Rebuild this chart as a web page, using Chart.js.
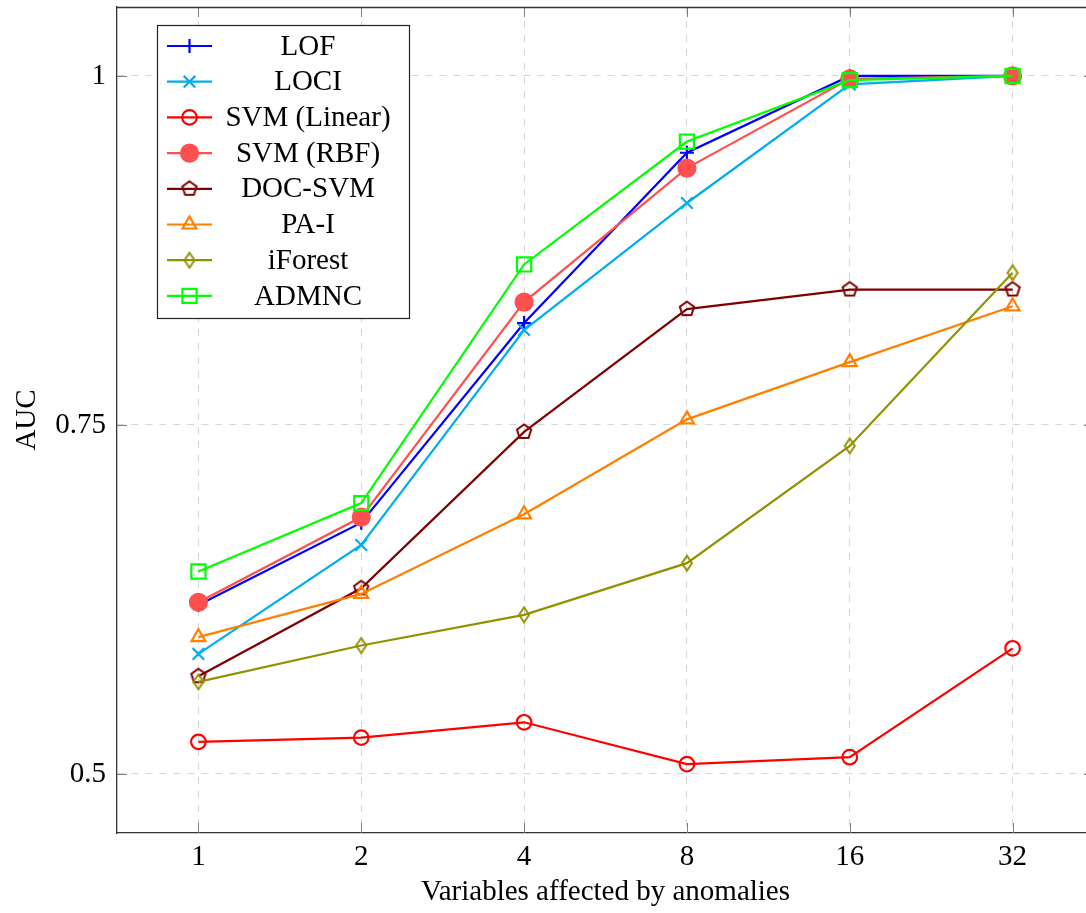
<!DOCTYPE html>
<html>
<head>
<meta charset="utf-8">
<title>AUC vs. variables affected by anomalies</title>
<script src="https://cdn.jsdelivr.net/npm/chart.js@4/dist/chart.umd.min.js"></script>
<style>
  html, body { margin: 0; padding: 0; background: #fff; overflow: hidden; }
  #wrap { width: 1096px; height: 913px; }
</style>
</head>
<body>
<div id="wrap"><canvas id="c" width="1096" height="913"></canvas></div>
<script>
// Number of variables affected by anomalies (evenly spaced categories)
const categories = ['1', '2', '4', '8', '16', '32'];
const yTickValues = [0.5, 0.75, 1];

// AUC per method
const lof      = [0.621, 0.680, 0.823, 0.945, 1.000, 1.000];
const loci     = [0.586, 0.664, 0.818, 0.909, 0.994, 1.000];
const svmLin   = [0.523, 0.526, 0.537, 0.507, 0.512, 0.590];
const svmRbf   = [0.623, 0.684, 0.838, 0.934, 0.998, 1.000];
const docSvm   = [0.570, 0.633, 0.745, 0.833, 0.847, 0.847];
const paI      = [0.598, 0.629, 0.686, 0.754, 0.795, 0.835];
const iForest  = [0.566, 0.592, 0.614, 0.651, 0.735, 0.859];
const admnc    = [0.645, 0.694, 0.865, 0.953, 0.997, 1.000];

const methodNames = ['LOF', 'LOCI', 'SVM (Linear)', 'SVM (RBF)', 'DOC-SVM', 'PA-I', 'iForest', 'ADMNC'];
const methodValues = [lof, loci, svmLin, svmRbf, docSvm, paI, iForest, admnc];
const methodColors = ['#0000ff', '#00aeef', '#ff0000', '#ff5050', '#800000', '#ff8000', '#929200', '#00ff00'];

const FONT = "'Liberation Serif', 'Times New Roman', serif";
const FONT_SIZE = 29;

// Outline markers that Chart.js has no built-in style for
function outlineMarker(color, draw) {
  const c = document.createElement('canvas');
  c.width = 22; c.height = 22;
  const g = c.getContext('2d');
  g.strokeStyle = color;
  g.lineWidth = 2;
  g.lineJoin = 'miter';
  g.beginPath();
  draw(g, 11, 11);
  g.closePath();
  g.stroke();
  return c;
}
const pentagon = outlineMarker(methodColors[4], (g, cx, cy) => {
  const r = 7.5;
  for (let k = 0; k < 5; k++) {
    const a = -Math.PI / 2 + k * 2 * Math.PI / 5;
    const px = cx + r * Math.cos(a), py = cy + r * Math.sin(a);
    if (k === 0) g.moveTo(px, py); else g.lineTo(px, py);
  }
});
const diamond = outlineMarker(methodColors[6], (g, cx, cy) => {
  g.moveTo(cx, cy - 7.5);
  g.lineTo(cx + 5, cy);
  g.lineTo(cx, cy + 7.5);
  g.lineTo(cx - 5, cy);
});

const markerStyles = [
  { pointStyle: 'cross',    radius: 7,   filled: false },
  { pointStyle: 'crossRot', radius: 8.2, filled: false },
  { pointStyle: 'circle',   radius: 7.3, filled: false },
  { pointStyle: 'circle',   radius: 8.5, filled: true  },
  { pointStyle: pentagon,   radius: 7,   filled: false },
  { pointStyle: 'triangle', radius: 8,   filled: false },
  { pointStyle: diamond,    radius: 7,   filled: false },
  { pointStyle: 'rect',     radius: 10,  filled: false }
];

const datasets = methodNames.map((name, i) => ({
  label: name,
  data: methodValues[i].map((v, k) => ({ x: k, y: v })),
  borderColor: methodColors[i],
  backgroundColor: methodColors[i],
  borderWidth: 2.2,
  tension: 0,
  pointStyle: markerStyles[i].pointStyle,
  pointRadius: markerStyles[i].radius,
  pointHoverRadius: markerStyles[i].radius,
  pointBorderWidth: 2.2,
  pointBorderColor: methodColors[i],
  pointBackgroundColor: markerStyles[i].filled ? methodColors[i] : 'rgba(0,0,0,0)',
  order: methodNames.length - 1 - i
}));

// Top/right frame lines and small inward tick marks on every side of the plot box
const frameTicks = {
  id: 'frameTicks',
  beforeDatasetsDraw(chart) {
    const { ctx, chartArea: a, scales } = chart;
    ctx.save();
    ctx.strokeStyle = '#808080';
    ctx.lineWidth = 1;
    const len = 10;
    ctx.beginPath();
    categories.forEach((_, i) => {
      const x = Math.round(scales.x.getPixelForValue(i)) + 0.5;
      ctx.moveTo(x, a.bottom); ctx.lineTo(x, a.bottom - len);
      ctx.moveTo(x, a.top); ctx.lineTo(x, a.top + len);
    });
    yTickValues.forEach(v => {
      const y = Math.round(scales.y.getPixelForValue(v)) + 0.5;
      ctx.moveTo(a.left, y); ctx.lineTo(a.left + len, y);
      ctx.moveTo(a.right, y); ctx.lineTo(a.right - len, y);
    });
    ctx.stroke();
    ctx.strokeStyle = '#333';
    ctx.lineWidth = 1.3;
    ctx.beginPath();
    ctx.moveTo(a.left, a.top + 0.5); ctx.lineTo(a.right, a.top + 0.5);
    ctx.moveTo(a.right - 0.5, a.top); ctx.lineTo(a.right - 0.5, a.bottom);
    ctx.stroke();
    ctx.restore();
  }
};

// Boxed legend in the upper-left corner of the plot
const boxLegend = {
  id: 'boxLegend',
  afterDraw(chart) {
    const { ctx } = chart;
    const bx = 157, by = 25, bw = 252, bh = 293;
    ctx.save();
    ctx.fillStyle = '#fff';
    ctx.fillRect(bx, by, bw, bh);
    ctx.strokeStyle = '#222';
    ctx.lineWidth = 1.2;
    ctx.strokeRect(bx + 0.5, by + 0.5, bw, bh);
    ctx.font = FONT_SIZE + 'px ' + FONT;
    ctx.textAlign = 'center';
    ctx.textBaseline = 'middle';
    const step = 35.7;
    methodNames.forEach((name, i) => {
      const cy = 46 + i * step;
      const color = methodColors[i];
      ctx.strokeStyle = color;
      ctx.lineWidth = 2.2;
      ctx.setLineDash([]);
      ctx.beginPath();
      ctx.moveTo(167, cy); ctx.lineTo(212, cy);
      ctx.stroke();
      const m = markerStyles[i];
      ctx.fillStyle = m.filled ? color : 'rgba(0,0,0,0)';
      ctx.strokeStyle = color;
      ctx.lineWidth = 2.2;
      Chart.helpers.drawPoint(ctx, {
        pointStyle: m.pointStyle, radius: m.radius, rotation: 0, borderWidth: 2.2
      }, 189.5, cy);
      ctx.fillStyle = '#000';
      ctx.fillText(name, 308, cy + 1);
    });
    ctx.restore();
  }
};

new Chart(document.getElementById('c'), {
  type: 'line',
  data: { datasets },
  options: {
    responsive: false,
    devicePixelRatio: 1,
    animation: false,
    events: [],
    layout: { autoPadding: false, padding: { top: 7, right: 2, left: 0, bottom: 0 } },
    plugins: { legend: { display: false }, tooltip: { enabled: false } },
    scales: {
      x: {
        type: 'linear',
        min: -0.5,
        max: 5.5,
        afterBuildTicks: s => { s.ticks = categories.map((_, i) => ({ value: i })); },
        afterFit: s => { s.height = 80; s.paddingLeft = 0; s.paddingRight = 0; },
        ticks: {
          callback: v => categories[v],
          color: '#000',
          font: { family: FONT, size: FONT_SIZE },
          padding: 7,
          maxRotation: 0,
          autoSkip: false
        },
        grid: { color: '#d6d6d6', lineWidth: 1, drawTicks: false },
        border: { display: true, color: '#333', width: 1.3, dash: [7, 7] },
        title: {
          display: true,
          text: 'Variables affected by anomalies',
          color: '#000',
          font: { family: FONT, size: FONT_SIZE },
          padding: { top: 0, bottom: 3 }
        }
      },
      y: {
        type: 'linear',
        min: 0.4577,
        max: 1.0494,
        afterBuildTicks: s => { s.ticks = yTickValues.map(v => ({ value: v })); },
        afterFit: s => { s.width = 117; s.paddingTop = 0; s.paddingBottom = 0; },
        ticks: {
          callback: v => String(v),
          color: '#000',
          font: { family: FONT, size: FONT_SIZE },
          padding: 11
        },
        grid: { color: '#d6d6d6', lineWidth: 1, drawTicks: false },
        border: { display: true, color: '#333', width: 1.3, dash: [7, 7] },
        title: {
          display: true,
          text: 'AUC',
          color: '#000',
          font: { family: FONT, size: FONT_SIZE },
          padding: { top: 10, bottom: 0 }
        }
      }
    }
  },
  plugins: [frameTicks, boxLegend]
});
</script>
</body>
</html>
